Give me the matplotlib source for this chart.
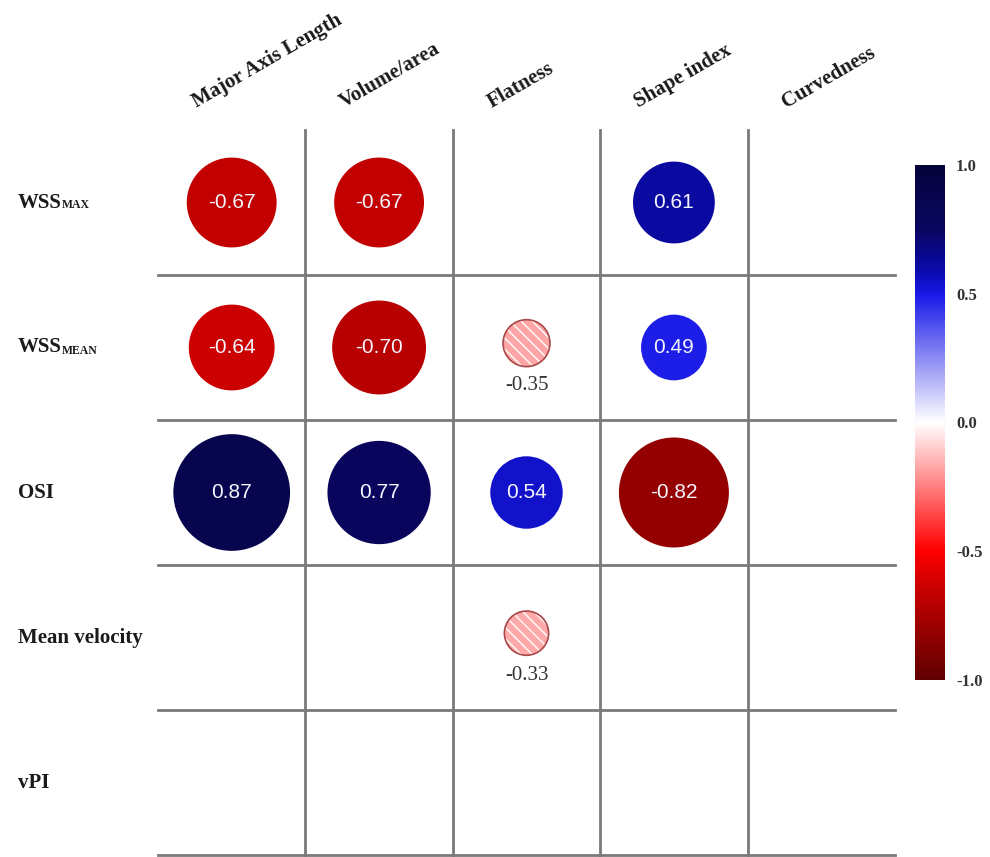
import numpy as np
import matplotlib
matplotlib.use("Agg")
import matplotlib.pyplot as plt
from matplotlib.patches import Ellipse
from matplotlib import colors, cm

# data
row_names = ['WSS', 'WSS', 'OSI', 'Mean velocity', 'vPI']
row_subs = ['MAX', 'MEAN', '', '', '']
col_names = ['Major Axis Length', 'Volume/area', 'Flatness', 'Shape index', 'Curvedness']

nan = np.nan
corr = np.array([
    [-0.67, -0.67, nan, 0.61, nan],
    [-0.64, -0.70, -0.35, 0.49, nan],
    [0.87, 0.77, 0.54, -0.82, nan],
    [nan, nan, -0.33, nan, nan],
    [nan, nan, nan, nan, nan],
])
# weak correlations drawn hatched with the value below
weak = np.array([
    [0, 0, 0, 0, 0],
    [0, 0, 1, 0, 0],
    [0, 0, 0, 0, 0],
    [0, 0, 1, 0, 0],
    [0, 0, 0, 0, 0],
], dtype=bool)

cbar_ticks = [-1.0, -0.5, 0.0, 0.5, 1.0]

serif = 'Liberation Serif'
sans = 'Liberation Sans'
# red - white - blue, darker at the ends like the original
cmap = colors.LinearSegmentedColormap.from_list('rwb', [
    (0.0, '#600000'), (0.1, '#9a0000'), (0.175, '#c80000'), (0.25, '#ff0000'),
    (0.5, '#ffffff'),
    (0.75, '#1818e8'), (0.8, '#0a0aa8'), (0.875, '#0a0560'), (1.0, '#04043a')])
norm = colors.Normalize(vmin=-1, vmax=1)

fig = plt.figure(figsize=(9.9, 8.57), dpi=100)
W, H = 990.0, 857.0
gx0, gx1, gy0, gy1 = 158, 895, 130, 855
ax = fig.add_axes([gx0 / W, 1 - gy1 / H, (gx1 - gx0) / W, (gy1 - gy0) / H])
nr, nc = corr.shape
ax.set_xlim(0, nc)
ax.set_ylim(nr, 0)
ax.axis('off')
cw = (gx1 - gx0) / nc
ch = (gy1 - gy0) / nr

# grid
for j in range(1, nc):
    ax.plot([j, j], [0, nr], color='#7a7a7a', lw=2, clip_on=False)
for i in range(1, nr + 1):
    ax.plot([0, nc], [i, i], color='#7a7a7a', lw=2, clip_on=False)

k = 0.455
for i in range(nr):
    for j in range(nc):
        v = corr[i, j]
        if np.isnan(v):
            continue
        r = k * abs(v)
        cx, cy = j + 0.5, i + 0.5
        c = cmap(norm(v))
        if weak[i, j]:
            cy = i + 0.47
            ax.add_patch(Ellipse((cx, cy), 2 * r, 2 * r * cw / ch, facecolor=c, alpha=0.5,
                                 edgecolor='none'))
            ax.add_patch(Ellipse((cx, cy), 2 * r, 2 * r * cw / ch, facecolor='none',
                                 edgecolor='white', hatch='\\\\\\', lw=0))
            ax.add_patch(Ellipse((cx, cy), 2 * r, 2 * r * cw / ch, facecolor='none',
                                 edgecolor='#a84848', lw=1.2))
            ax.text(cx, i + 0.76, '%.2f' % v, ha='center', va='center', fontsize=15,
                    family=serif, color='#333333')
        else:
            ax.add_patch(Ellipse((cx, cy), 2 * r, 2 * r * cw / ch, facecolor=c, edgecolor='none'))
            ax.text(cx, cy, '%.2f' % v, ha='center', va='center', fontsize=15,
                    family=sans, color='#f4f4ff')

# row labels
for i, name in enumerate(row_names):
    t = ax.text((18 - gx0) / cw, i + 0.5, name, ha='left', va='center', fontsize=15,
                family=serif, fontweight='bold', color='#1a1a1a', clip_on=False)
    if row_subs[i]:
        ax.annotate(row_subs[i], xy=(1, 0.05), xycoords=t, ha='left', va='bottom',
                    fontsize=8.5, family=serif, fontweight='bold', color='#1a1a1a',
                    annotation_clip=False)

# column labels
for j, name in enumerate(col_names):
    ax.text(j + 0.5 - 35 / cw, (108 - gy0) / ch, name, rotation=30, rotation_mode='anchor',
            ha='left', va='baseline', fontsize=15, family=serif, fontweight='bold',
            color='#1a1a1a', clip_on=False)

# colorbar
cax = fig.add_axes([915 / W, 1 - 680 / H, 30 / W, 515 / H])
sm = cm.ScalarMappable(norm=norm, cmap=cmap)
cb = fig.colorbar(sm, cax=cax)
cb.outline.set_visible(False)
cb.set_ticks(cbar_ticks)
cb.set_ticklabels(['%.1f' % t for t in cbar_ticks])
cax.tick_params(length=0, pad=8)
for lab in cax.get_yticklabels():
    lab.set_family(serif)
    lab.set_fontweight('bold')
    lab.set_fontsize(12)
    lab.set_color('#333333')

fig.savefig('out.png', dpi=100, facecolor='white')
